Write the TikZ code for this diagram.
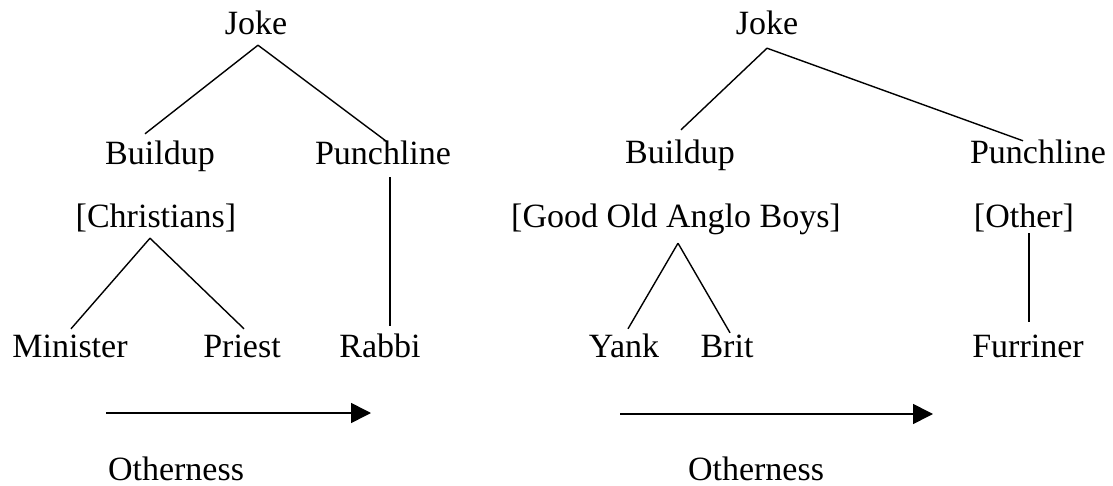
\documentclass[tikz,border=0pt]{standalone}
\usepackage{fontspec}
\setmainfont{Liberation Serif}
\usetikzlibrary{arrows.meta}

\begin{document}
\begin{tikzpicture}[x=1pt, y=-1pt,
  lbl/.style={anchor=base, inner sep=2pt, text height=26pt, text depth=8pt,
    font=\fontsize{34}{40}\selectfont},
  foot/.style={lbl, inner sep=1pt, text depth=0pt},
  branch/.style={line width=1.4pt},
  scale arrow/.style={line width=1.6pt, -{Triangle[length=20pt, width=20pt]}}]

\useasboundingbox (0,0) rectangle (1113,486);

\newcommand\labrow[3][lbl]{
	\foreach \nm/\x/\lab in #3 {
		\node[#1] (\nm) at (\x, #2) {\lab};
	}
}

% left tree
\labrow{35}{{joke1/256/Joke}}
\labrow{165}{{bu1/160/Buildup, pl1/383/Punchline}}
\labrow{228}{{ch1/156/{[Christians]}}}
\labrow{357}{{mi1/70/Minister, pr1/242/Priest, ra1/380/Rabbi}}

% right tree
\labrow{35}{{joke2/767/Joke}}
\labrow{164}{{bu2/680/Buildup, pl2/1038/Punchline}}
\labrow{228}{{gb2/676/{[Good Old Anglo Boys]}, ot2/1024/{[Other]}}}
\labrow{357}{{yk2/624/Yank, br2/727/Brit, fu2/1028/Furriner}}

\draw[branch] ([xshift=2pt]joke1.south) -- ([xshift=-15pt, yshift=3pt]bu1.north);
\draw[branch] ([xshift=2pt]joke1.south) -- ([xshift=4pt, yshift=-5pt]pl1.north);
\draw[branch] ([xshift=7pt, yshift=-2pt]pl1.south) -- ([xshift=10pt, yshift=3pt]ra1.north);
\draw[branch] ([xshift=-6pt]ch1.south) -- ([xshift=1pt]mi1.north);
\draw[branch] ([xshift=-6pt]ch1.south) -- ([xshift=2pt]pr1.north);

\draw[branch] ([yshift=-3pt]joke2.south) -- ([xshift=1pt, yshift=6pt]bu2.north);
\draw[branch] ([yshift=-3pt]joke2.south) -- ([xshift=-15pt, yshift=-5pt]pl2.north);
\draw[branch] ([xshift=2pt, yshift=-5pt]gb2.south) -- ([xshift=4pt]yk2.north);
\draw[branch] ([xshift=2pt, yshift=-5pt]gb2.south) -- ([xshift=3pt, yshift=-4pt]br2.north);
\draw[branch] ([xshift=5pt, yshift=5pt]ot2.south) -- ([xshift=1pt, yshift=7pt]fu2.north);

% otherness scales
\coordinate (s1) at (106,413);
\coordinate (e1) at (371,413);
\coordinate (s2) at (620,414);
\coordinate (e2) at (933,414);
\draw[scale arrow] (s1) -- (e1);
\draw[scale arrow] (s2) -- (e2);
\labrow[foot]{480}{{oth1/176/Otherness, oth2/756/Otherness}}

\end{tikzpicture}
\end{document}
